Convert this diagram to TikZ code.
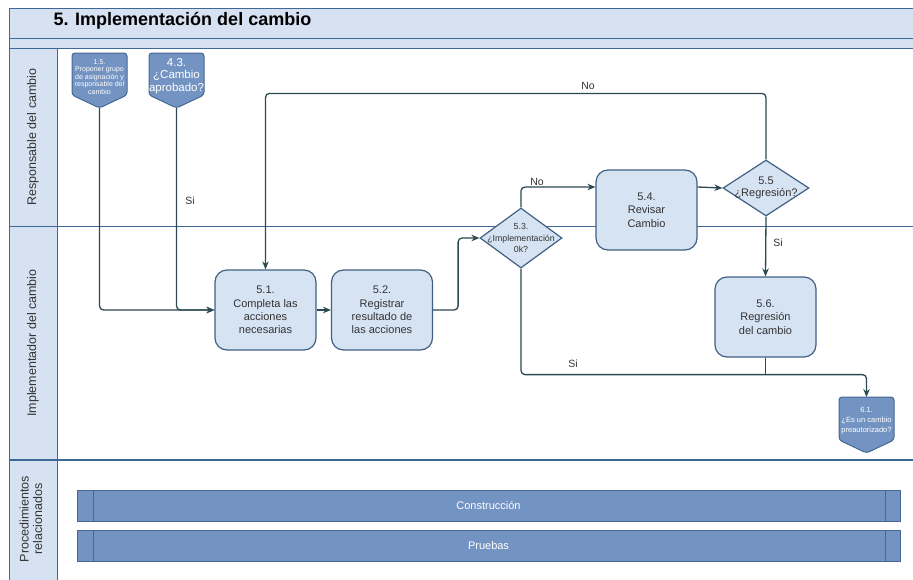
\documentclass[tikz,border=0pt]{standalone}
\usepackage{fontspec}
\setmainfont{Liberation Sans}
\usetikzlibrary{shapes.geometric,arrows.meta}

\definecolor{lanefill}{RGB}{214,226,241}
\definecolor{laneline}{RGB}{62,104,150}
\definecolor{boxfill}{RGB}{214,227,243}
\definecolor{boxline}{RGB}{64,96,132}
\definecolor{flowline}{RGB}{44,72,82}
\definecolor{linkfill}{RGB}{115,148,194}
\definecolor{linkline}{RGB}{70,104,146}

\begin{document}
\begin{tikzpicture}[x=1pt,y=-1pt,
  lane/.style={draw=laneline,line width=1pt},
  stepbox/.style={rectangle,rounded corners=12pt,draw=boxline,fill=boxfill,line width=1.2pt,
    minimum width=101pt,minimum height=80pt,align=center,
    font=\fontsize{11}{13.3}\selectfont,text=black!80},
  choice/.style={diamond,draw=boxline,fill=boxfill,line width=1.2pt,inner sep=0pt},
  choicetext/.style={align=center,inner sep=0pt,text=black!80},
  linkshape/.style={draw=linkline,fill=linkfill,line width=1pt,rounded corners=3pt},
  linktext/.style={align=center,text=white,inner sep=0pt},
  flow/.style={draw=flowline,line width=1.3pt,rounded corners=4pt},
  arrow/.style={flow,-{Stealth[length=8pt,width=6.5pt]}},
  flowlabel/.style={font=\fontsize{10.5}{12}\selectfont,text=black!80},
  bar/.style={draw=linkline,fill=linkfill,line width=1pt},
  lanetitle/.style={rotate=90,align=center,font=\fontsize{12.5}{13.5}\selectfont,text=black!80},
]
\useasboundingbox (0,0) rectangle (913,579);
\clip (0,0) rectangle (913,579);

% pool frame and lanes
\fill[lanefill] (9,8) rectangle (930,48);
\fill[lanefill] (9,48) rectangle (57,600);
\draw[lane] (930,8) -- (9,8) -- (9,600);
\draw[lane] (9,38) -- (930,38);
\draw[lane] (9,48) -- (930,48);
\draw[lane] (57,48) -- (57,600);
\draw[lane] (9,226) -- (930,226);
\draw[lane,line width=1.8pt] (9,460) -- (930,460);

\node[anchor=west,font=\fontsize{18}{20}\bfseries\selectfont] (title) at (50,21) {5. Implementación del cambio};

\node[lanetitle] (l1) at (33,137) {Responsable del cambio};
\node[lanetitle] (l2) at (33,343) {Implementador del cambio};
\node[lanetitle] (l3) at (31,519) {Procedimientos\\relacionados};

% off-page links
\path[linkshape] (72,95) -- (72,53) -- (127,53) -- (127,95) -- (99.5,108) -- cycle;
\coordinate (p15) at (99.5,108);
\node[linktext,font=\fontsize{7}{7.6}\selectfont] (n15) at (99.5,77) {1.5.\\Proponer grupo\\de asignación y\\responsable del\\cambio};

\path[linkshape] (149,95) -- (149,53) -- (204,53) -- (204,95) -- (176.5,108) -- cycle;
\coordinate (p43) at (176.5,108);
\node[linktext,font=\fontsize{11.5}{12.8}\selectfont] (n43) at (176.5,76) {4.3.\\¿Cambio\\aprobado?};

\path[linkshape] (839,440) -- (839,397) -- (894,397) -- (894,440) -- (866.5,453) -- cycle;
\coordinate (p61) at (866.5,397);
\node[linktext,font=\fontsize{7.5}{10}\selectfont] (n61) at (866.5,421) {6.1.\\¿Es un cambio\\preautorizado?};

% activities
\node[stepbox] (b51) at (265.5,310) {5.1.\\Completa las\\acciones\\necesarias};
\node[stepbox] (b52) at (382,310) {5.2.\\Registrar\\resultado de\\las acciones};
\node[stepbox] (b54) at (646.5,210) {5.4.\\Revisar\\Cambio};
\node[stepbox] (b56) at (765.5,317) {5.6.\\Regresión\\del cambio};

% decisions
\node[choice,minimum width=82pt,minimum height=60pt] (d53) at (521,238) {};
\node[choicetext,font=\fontsize{8.8}{11.5}\selectfont] (t53) at (d53) {5.3.\\¿Implementación\\0k?};
\node[choice,minimum width=86pt,minimum height=56pt] (d55) at (766,188) {};
\node[choicetext,font=\fontsize{11}{12.5}\selectfont] (t55) at (d55) {5.5\\¿Regresión?};

% connectors
\draw[arrow] (p15) |- (b51.west);
\draw[arrow] (p43) |- (b51.west);
\node[flowlabel] (si1) at (190,201) {Si};
\draw[arrow] (b51) -- (b52);
\draw[arrow] (b52.east) -- ++(25,0) |- (d53.west);
\draw[arrow] (d53.north) |- ([yshift=23pt]b54.west);
\node[flowlabel] (no1) at (537,182) {No};
\draw[arrow] ([yshift=23pt]b54.east) -- (d55.west);
\draw[arrow] (d55.north) -- ++(0,-66) -| (b51.north);
\node[flowlabel] (no2) at (588,86) {No};
\draw[arrow] (d55.south) -- (b56.north);
\node[flowlabel] (si2) at (778,243) {Si};
\draw[arrow] (d53.south) -- ++(0,106) coordinate (j) -| (p61);
\node[flowlabel] (si3) at (573,364) {Si};
\draw[flow] (b56.south) -- (b56.south |- j);

% related procedures
\draw[bar] (77,490) rectangle (900,521);
\draw[linkline,line width=1pt] (93,490) -- (93,521) (885,490) -- (885,521);
\node[text=white,font=\fontsize{11}{12}\selectfont] (c1) at (488.5,505.5) {Construcción};
\draw[bar] (77,530) rectangle (900,561);
\draw[linkline,line width=1pt] (93,530) -- (93,561) (885,530) -- (885,561);
\node[text=white,font=\fontsize{11}{12}\selectfont] (c2) at (488.5,545.5) {Pruebas};
\end{tikzpicture}
\end{document}
